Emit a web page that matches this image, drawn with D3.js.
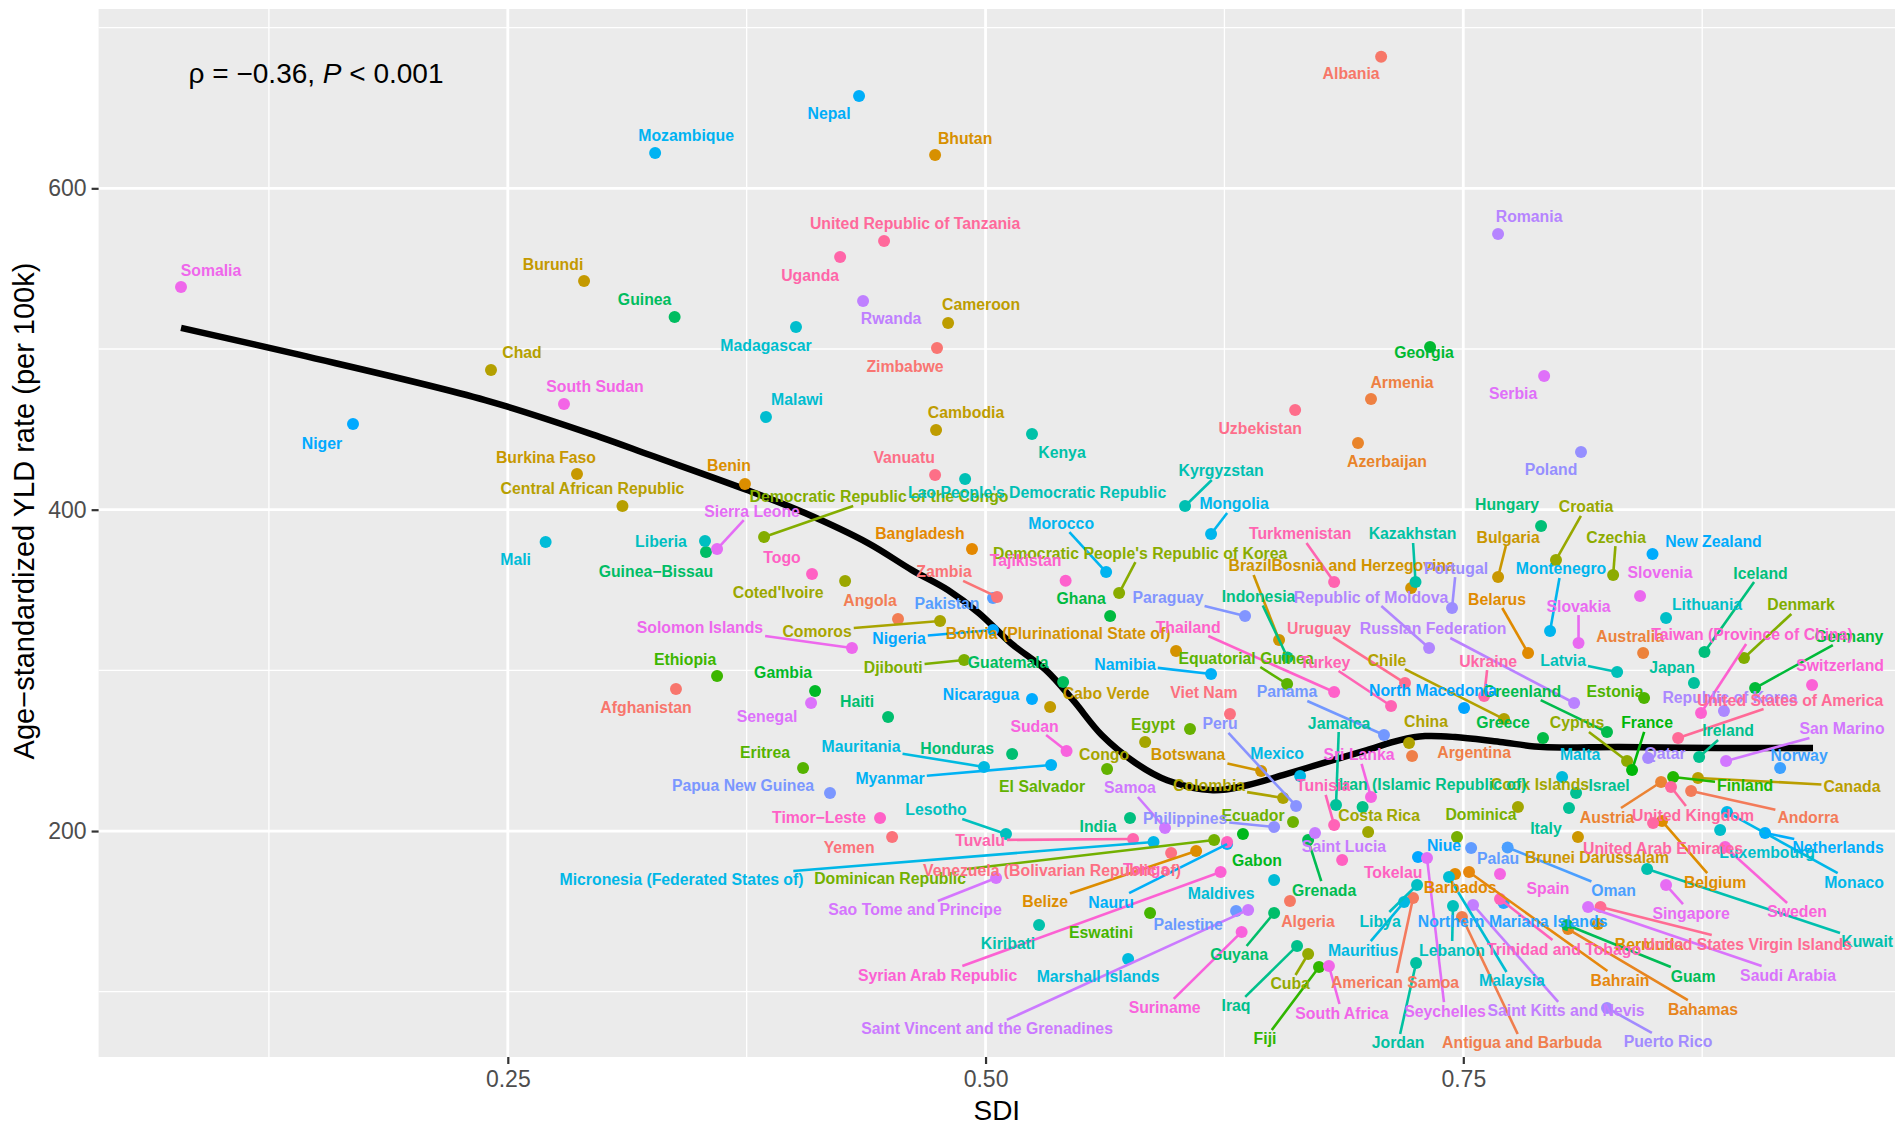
<!DOCTYPE html>
<html>
<head>
<meta charset="utf-8">
<script src="https://cdn.jsdelivr.net/npm/d3@7"></script>
<style>
  body { margin: 0; background: #fff; }
  text { font-family: "Liberation Sans", Arial, sans-serif; }
</style>
</head>
<body>
<svg id="chart" width="1902" height="1129"></svg>
<script>
// countries in alphabetical order (colour follows this order, like ggplot's hue scale)
const countries = [
  "Afghanistan", "Albania", "Algeria", "American Samoa", "Andorra", "Angola", "Antigua and Barbuda", "Argentina", "Armenia", "Australia", "Austria", "Azerbaijan",
  "Bahamas", "Bahrain", "Bangladesh", "Barbados", "Belarus", "Belgium", "Belize", "Benin", "Bermuda", "Bhutan", "Bolivia (Plurinational State of)", "Bosnia and Herzegovina", "Botswana", "Brazil", "Brunei Darussalam", "Bulgaria", "Burkina Faso", "Burundi",
  "Cabo Verde", "Cambodia", "Cameroon", "Canada", "Central African Republic", "Chad", "Chile", "China", "Colombia", "Comoros", "Congo", "Cook Islands", "Costa Rica", "Coted'Ivoire", "Croatia", "Cuba", "Cyprus", "Czechia",
  "Democratic People's Republic of Korea", "Democratic Republic of the Congo", "Denmark", "Djibouti", "Dominica", "Dominican Republic",
  "Ecuador", "Egypt", "El Salvador", "Equatorial Guinea", "Eritrea", "Estonia", "Eswatini", "Ethiopia",
  "Fiji", "Finland", "France",
  "Gabon", "Gambia", "Georgia", "Germany", "Ghana", "Greece", "Greenland", "Grenada", "Guam", "Guatemala", "Guinea", "Guinea−Bissau", "Guyana",
  "Haiti", "Honduras", "Hungary",
  "Iceland", "India", "Indonesia", "Iran (Islamic Republic of)", "Iraq", "Ireland", "Israel", "Italy",
  "Jamaica", "Japan", "Jordan",
  "Kazakhstan", "Kenya", "Kiribati", "Kuwait", "Kyrgyzstan",
  "Lao People's Democratic Republic", "Latvia", "Lebanon", "Lesotho", "Liberia", "Libya", "Lithuania", "Luxembourg",
  "Madagascar", "Malawi", "Malaysia", "Maldives", "Mali", "Malta", "Marshall Islands", "Mauritania", "Mauritius", "Mexico", "Micronesia (Federated States of)", "Monaco", "Mongolia", "Montenegro", "Morocco", "Mozambique", "Myanmar",
  "Namibia", "Nauru", "Nepal", "Netherlands", "New Zealand", "Nicaragua", "Niger", "Nigeria", "Niue", "North Macedonia", "Northern Mariana Islands", "Norway",
  "Oman",
  "Pakistan", "Palau", "Palestine", "Panama", "Papua New Guinea", "Paraguay", "Peru", "Philippines", "Poland", "Portugal", "Puerto Rico",
  "Qatar",
  "Republic of Korea", "Republic of Moldova", "Romania", "Russian Federation", "Rwanda",
  "Saint Kitts and Nevis", "Saint Lucia", "Saint Vincent and the Grenadines", "Samoa", "San Marino", "Sao Tome and Principe", "Saudi Arabia", "Senegal", "Serbia", "Seychelles", "Sierra Leone", "Singapore", "Slovakia", "Slovenia", "Solomon Islands", "Somalia", "South Africa", "South Sudan", "Spain", "Sri Lanka", "Sudan", "Suriname", "Sweden", "Switzerland", "Syrian Arab Republic",
  "Taiwan (Province of China)", "Tajikistan", "Thailand", "Timor−Leste", "Togo", "Tokelau", "Tonga", "Trinidad and Tobago", "Tunisia", "Turkey", "Turkmenistan", "Tuvalu",
  "Uganda", "Ukraine", "United Arab Emirates", "United Kingdom", "United Republic of Tanzania", "United States of America", "United States Virgin Islands", "Uruguay", "Uzbekistan",
  "Vanuatu", "Venezuela (Bolivarian Republic of)", "Viet Nam",
  "Yemen", "Zambia", "Zimbabwe"
];

const sdi = [
  0.3380, 0.7070, 0.6593, 0.7237, 0.8692, 0.4542, 0.7493, 0.7232, 0.7017, 0.8441, 0.8535, 0.6949,
  0.8048, 0.7530, 0.4929, 0.7457, 0.7839, 0.8540, 0.6102, 0.3741, 0.8205, 0.4736, 0.5997, 0.7227, 0.6442, 0.6536, 0.8100, 0.7682, 0.2862, 0.2899,
  0.5338, 0.4741, 0.4804, 0.8728, 0.3100, 0.2412, 0.7713, 0.7216, 0.6557, 0.4762, 0.5835, 0.7786, 0.7002, 0.4265, 0.7985, 0.6688, 0.8357, 0.8284,
  0.5699, 0.3841, 0.8969, 0.4888, 0.7467, 0.6196,
  0.6609, 0.6070, 0.5636, 0.6578, 0.4045, 0.8446, 0.5861, 0.3595,
  0.6745, 0.8598, 0.8383,
  0.6347, 0.4108, 0.7326, 0.9027, 0.5652, 0.7917, 0.8252, 0.6688, 0.8043, 0.5406, 0.3373, 0.3537, 0.6510,
  0.4490, 0.5139, 0.7907,
  0.8762, 0.5756, 0.6580, 0.6973, 0.6630, 0.8734, 0.8090, 0.8053,
  0.6834, 0.8707, 0.7253,
  0.7250, 0.5243, 0.5280, 0.8462, 0.6044,
  0.4893, 0.8305, 0.7446, 0.5107, 0.3532, 0.7258, 0.8561, 0.8844,
  0.4008, 0.3851, 0.7425, 0.6510, 0.2698, 0.8017, 0.5746, 0.4992, 0.7190, 0.6646, 0.5879, 0.8880, 0.6180, 0.7954, 0.5631, 0.3271, 0.5343,
  0.6180, 0.6264, 0.4338, 0.9079, 0.8490, 0.5243, 0.1690, 0.5039, 0.7263, 0.7504, 0.7711, 0.9158,
  0.7732,
  0.5039, 0.7541, 0.6311, 0.7085, 0.4186, 0.6358, 0.6625, 0.6510, 0.8116, 0.7441, 0.8252,
  0.8467,
  0.8864, 0.7321, 0.7682, 0.8080, 0.4359,
  0.7551, 0.6724, 0.6374, 0.5939, 0.8875, 0.5055, 0.8153, 0.4087, 0.7923, 0.7310, 0.3595, 0.8561, 0.8103, 0.8425, 0.4301, 0.0790, 0.6797, 0.2794, 0.7692, 0.7017, 0.5424, 0.6340, 0.8870, 0.9325, 0.6230,
  0.8744, 0.5419, 0.6824, 0.4448, 0.4092, 0.6866, 0.6264, 0.7692, 0.6824, 0.7122, 0.6824, 0.5772,
  0.4239, 0.7609, 0.8493, 0.8587, 0.4469, 0.8624, 0.8218, 0.7195, 0.6620,
  0.4736, 0.5971, 0.6279,
  0.4511, 0.5060, 0.4746
];

const yld = [
  288.4, 681.9, 156.5, 158.3, 224.9, 332.0, 146.5, 246.7, 468.9, 310.8, 230.5, 441.5,
  139.0, 174.5, 375.5, 173.3, 310.8, 206.2, 187.6, 416.0, 142.1, 620.7, 312.0, 351.3, 237.4, 318.9, 196.3, 358.1, 422.2, 542.3,
  277.2, 449.6, 516.2, 233.0, 402.3, 486.9, 269.7, 254.8, 220.6, 330.7, 255.4, 215.0, 199.4, 355.6, 368.7, 123.5, 243.6, 359.3,
  348.1, 383.0, 307.7, 306.4, 196.3, 194.4,
  205.6, 263.5, 238.6, 291.5, 239.2, 282.8, 149.0, 296.5,
  115.4, 233.6, 238.0,
  198.2, 287.2, 501.2, 289.0, 333.8, 257.9, 261.6, 194.4, 141.5, 292.8, 519.9, 373.7, 149.0,
  271.0, 247.9, 389.8,
  311.4, 208.1, 308.0, 215.0, 128.5, 246.1, 223.7, 214.3,
  216.2, 292.1, 117.9,
  355.0, 447.1, 141.5, 176.4, 402.3,
  419.1, 299.0, 153.3, 198.2, 380.5, 166.4, 332.6, 200.6,
  513.7, 457.7, 171.4, 169.5, 379.9, 233.6, 120.4, 239.9, 155.8, 234.3, 193.2, 211.8, 384.9, 324.5, 361.2, 622.0, 241.1,
  297.7, 191.9, 657.5, 198.8, 372.4, 282.2, 453.3, 325.1, 183.8, 276.6, 155.2, 239.2,
  189.8,
  345.0, 189.4, 150.2, 259.8, 223.7, 333.8, 215.6, 202.5, 435.9, 338.8, 89.9,
  245.5,
  274.7, 313.9, 571.6, 279.7, 529.9,
  154.0, 198.8, 150.9, 201.9, 243.6, 170.8, 152.7, 279.7, 483.2, 183.2, 375.5, 166.4, 317.0, 346.3, 313.9, 538.6, 116.0, 465.8, 173.3, 221.2, 249.8, 137.2, 190.1, 290.9, 174.5,
  273.5, 355.8, 286.5, 208.1, 360.0, 182.0, 193.2, 157.7, 203.8, 277.8, 355.0, 195.0,
  557.2, 284.0, 205.0, 227.4, 567.2, 257.9, 152.7, 292.1, 462.0,
  421.6, 186.3, 272.8,
  196.3, 345.7, 500.6
];

// loess trend
const smoothSdi = [0.0790, 0.1413, 0.2381, 0.2983, 0.3244, 0.3752, 0.4055, 0.4385, 0.4615, 0.4803, 0.4966, 0.5133, 0.5316, 0.5458, 0.5609,
  0.5787, 0.5950, 0.6190, 0.6368, 0.6556, 0.6818, 0.6996, 0.7169, 0.7300, 0.7457, 0.7692, 0.7917, 0.8320, 0.8828, 0.9330];
const smoothYld = [513.1, 496.3, 468.2, 445.2, 434.0, 412.2, 397.9, 379.2, 362.4, 350.0, 335.6, 316.9, 300.1, 281.4, 259.6,
  242.2, 231.6, 225.4, 228.5, 234.8, 244.2, 250.4, 256.6, 259.1, 258.5, 255.4, 252.3, 252.3, 251.7, 251.7];

const xTicks = [0.25, 0.5, 0.75];
const xTickLabels = ["0.25", "0.50", "0.75"];
const xMinor = [0.125, 0.375, 0.625, 0.875];
const yTicks = [200, 400, 600];
const yMinor = [100, 300, 500, 700];

// where the repelled labels sit, in pixels from their point
const labelNudge = {
  "Afghanistan": [-30, 19], "Albania": [-30, 17], "Algeria": [18, 21], "American Samoa": [-18, 84], "Andorra": [117, 26],
  "Angola": [-28, -18], "Antigua and Barbuda": [60, 126], "Argentina": [62, -3], "Armenia": [31, -16], "Australia": [-13, -17],
  "Austria": [-54, 35], "Azerbaijan": [29, 19], "Bahamas": [135, 80], "Bahrain": [151, 108], "Bangladesh": [-52, -16],
  "Barbados": [5, 14], "Belarus": [-31, -54], "Belgium": [53, 61], "Belize": [-151, 51], "Benin": [-16, -18],
  "Bermuda": [51, 20], "Bhutan": [30, -17], "Bolivia (Plurinational State of)": [-118, -18], "Bosnia and Herzegovina": [-48, -22],
  "Botswana": [-73, -16], "Brazil": [-29, -74], "Brunei Darussalam": [19, 21], "Bulgaria": [10, -40], "Burkina Faso": [-31, -17],
  "Burundi": [-31, -17], "Cabo Verde": [56, -13], "Cambodia": [30, -17], "Cameroon": [33, -18], "Canada": [154, 8],
  "Central African Republic": [-30, -17], "Chad": [31, -18], "Chile": [-117, -59], "China": [17, -21], "Colombia": [-74, -12],
  "Comoros": [-123, 10], "Congo": [-41, 12], "Cook Islands": [22, -22], "Costa Rica": [11, -17], "Coted'Ivoire": [-67, 11],
  "Croatia": [30, -53], "Cuba": [-18, 30], "Cyprus": [-50, -38], "Czechia": [3, -38],
  "Democratic People's Republic of Korea": [21, -40], "Democratic Republic of the Congo": [115, -40], "Denmark": [57, -53],
  "Djibouti": [-71, 7], "Dominica": [24, -22], "Dominican Republic": [-324, 38], "Ecuador": [-40, -7], "Egypt": [-37, -5],
  "El Salvador": [-65, 17], "Equatorial Guinea": [-41, -26], "Eritrea": [-38, -16], "Estonia": [-29, -6], "Eswatini": [-49, 20],
  "Ethiopia": [-32, -16], "Fiji": [-54, 72], "Finland": [72, 8], "France": [15, -47], "Gabon": [14, 27], "Gambia": [-32, -18],
  "Georgia": [-6, 5], "Germany": [94, -52], "Ghana": [-29, -18], "Greece": [-40, -16], "Greenland": [-85, -41], "Grenada": [16, 50],
  "Guam": [126, 51], "Guatemala": [-55, -19], "Guinea": [-30, -18], "Guinea−Bissau": [-50, 20], "Guyana": [-35, 42],
  "Haiti": [-31, -15], "Honduras": [-55, -6], "Hungary": [-34, -22], "Iceland": [56, -79], "India": [-32, 8], "Indonesia": [-29, -61],
  "Iran (Islamic Republic of)": [70, -22], "Iraq": [-61, 60], "Ireland": [29, -26], "Israel": [33, -7], "Italy": [-23, 20],
  "Jamaica": [3, -82], "Japan": [-22, -16], "Jordan": [-18, 80], "Kazakhstan": [-3, -48], "Kenya": [30, 19], "Kiribati": [-31, 18],
  "Kuwait": [220, 73], "Kyrgyzstan": [36, -35], "Lao People's Democratic Republic": [72, 14], "Latvia": [-54, -11],
  "Lebanon": [-1, 44], "Lesotho": [-70, -24], "Liberia": [-44, 0], "Libya": [-37, 36], "Lithuania": [41, -13], "Luxembourg": [47, 22],
  "Madagascar": [-30, 19], "Malawi": [31, -17], "Malaysia": [63, 104], "Maldives": [-53, 13], "Mali": [-30, 18], "Malta": [18, -23],
  "Marshall Islands": [-30, 18], "Mauritania": [-123, -20], "Mauritius": [-41, 48], "Mexico": [-23, -22],
  "Micronesia (Federated States of)": [-472, 38], "Monaco": [127, 70], "Mongolia": [23, -30], "Montenegro": [11, -62],
  "Morocco": [-45, -49], "Mozambique": [31, -17], "Myanmar": [-161, 14], "Namibia": [-86, -10], "Nauru": [-116, 58],
  "Nepal": [-30, 18], "Netherlands": [73, 15], "New Zealand": [61, -13], "Nicaragua": [-51, -4], "Niger": [-31, 19],
  "Nigeria": [-94, 8], "Niue": [26, -12], "North Macedonia": [-31, -17], "Northern Mariana Islands": [9, 18], "Norway": [19, -13],
  "Oman": [106, 43], "Pakistan": [-46, 5], "Palau": [27, 10], "Palestine": [-48, 13], "Panama": [-97, -43],
  "Papua New Guinea": [-87, -7], "Paraguay": [-77, -19], "Peru": [-76, -82], "Philippines": [-89, -9], "Poland": [-30, 18],
  "Portugal": [4, -40], "Puerto Rico": [61, 34], "Qatar": [17, -4], "Republic of Korea": [6, -14], "Republic of Moldova": [-58, -51],
  "Romania": [31, -17], "Russian Federation": [-141, -74], "Rwanda": [28, 18], "Saint Kitts and Nevis": [93, 106],
  "Saint Lucia": [29, 14], "Saint Vincent and the Grenadines": [-261, 119], "Samoa": [-35, -40], "San Marino": [116, -32],
  "Sao Tome and Principe": [-81, 32], "Saudi Arabia": [200, 68], "Senegal": [-44, 14], "Serbia": [-31, 18], "Seychelles": [18, 153],
  "Sierra Leone": [35, -38], "Singapore": [25, 28], "Slovakia": [0, -37], "Slovenia": [20, -23], "Solomon Islands": [-152, -21],
  "Somalia": [30, -16], "South Africa": [13, 47], "South Sudan": [31, -17], "Spain": [48, 15], "Sri Lanka": [-12, -42],
  "Sudan": [-32, -25], "Suriname": [-77, 76], "Sweden": [72, 65], "Switzerland": [28, -19], "Syrian Arab Republic": [-283, 103],
  "Taiwan (Province of China)": [51, -78], "Tajikistan": [-40, -20], "Thailand": [-146, -65], "Timor−Leste": [-61, -1],
  "Togo": [-30, -16], "Tokelau": [51, 13], "Tonga": [-81, 28], "Trinidad and Tobago": [64, 50], "Tunisia": [-11, -39],
  "Turkey": [-66, -44], "Turkmenistan": [-34, -48], "Tuvalu": [-153, 1], "Uganda": [-30, 18], "Ukraine": [4, -35],
  "United Arab Emirates": [10, 25], "United Kingdom": [22, 28], "United Republic of Tanzania": [31, -18],
  "United States of America": [112, -38], "United States Virgin Islands": [147, 37], "Uruguay": [-86, -55], "Uzbekistan": [-35, 18],
  "Vanuatu": [-31, -17], "Venezuela (Bolivarian Republic of)": [-119, 17], "Viet Nam": [-26, -22], "Yemen": [-43, 11],
  "Zambia": [-53, -25], "Zimbabwe": [-32, 18]
};

// labels that got a leader segment
const segmentLabels = new Set([
  "Democratic Republic of the Congo", "Sierra Leone", "Comoros", "Solomon Islands", "Nigeria", "Djibouti", "Zambia", "Morocco",
  "Democratic People's Republic of Korea", "Mauritania", "Myanmar", "Sudan", "Namibia", "Paraguay", "Indonesia", "Brazil",
  "Thailand", "Kyrgyzstan", "Mongolia", "Lesotho", "Tuvalu", "Micronesia (Federated States of)", "Dominican Republic",
  "Sao Tome and Principe", "Belize", "Nauru", "Syrian Arab Republic", "Samoa", "Colombia", "Philippines", "Peru", "Botswana",
  "Equatorial Guinea", "Uruguay", "Turkey", "Panama", "Chile", "Republic of Moldova", "Russian Federation", "Portugal",
  "Bulgaria", "Kazakhstan", "Turkmenistan", "Croatia", "Czechia", "Montenegro", "Slovakia", "Belarus", "Iceland", "Denmark",
  "Taiwan (Province of China)", "Germany", "Latvia", "Ukraine", "Greenland", "Cyprus", "France", "Ireland", "San Marino",
  "United States of America", "Finland", "Canada", "Austria", "United Kingdom", "Andorra", "Belgium", "Netherlands", "Monaco",
  "Sweden", "Singapore", "Kuwait", "Oman", "United States Virgin Islands", "Saudi Arabia", "Guam", "Bahamas", "Bahrain",
  "Puerto Rico", "Trinidad and Tobago", "Antigua and Barbuda", "Saint Kitts and Nevis", "Malaysia", "Seychelles", "Lebanon",
  "American Samoa", "Jordan", "Libya", "Mauritius", "South Africa", "Fiji", "Cuba", "Iraq", "Guyana", "Suriname",
  "Saint Vincent and the Grenadines", "Grenada", "Jamaica", "Tunisia", "Sri Lanka"
]);

// R's hcl() (polar LUV -> sRGB), used by ggplot's default hue scale
function hcl(h, c, l) {
  const hr = h * Math.PI / 180;
  const U = c * Math.cos(hr), V = c * Math.sin(hr);
  const Y = 100 * (l > 7.999592 ? Math.pow((l + 16) / 116, 3) : l / 903.3);
  const u = U / (13 * l) + 0.1978398, v = V / (13 * l) + 0.4683363;
  const X = 9 * Y * u / (4 * v);
  const Z = -X / 3 - 5 * Y + 3 * Y / v;
  const g = t => { t = t > 0.00304 ? 1.055 * Math.pow(t, 1 / 2.4) - 0.055 : 12.92 * t; return Math.round(255 * Math.max(0, Math.min(1, t))); };
  return `rgb(${g((3.240479 * X - 1.537150 * Y - 0.498535 * Z) / 100)},${g((-0.969256 * X + 1.875992 * Y + 0.041556 * Z) / 100)},${g((0.055648 * X - 0.204043 * Y + 1.057311 * Z) / 100)})`;
}
const n = countries.length;
const colour = countries.map((d, i) => hcl(15 + 360 * i / n, 100, 65));

const data = countries.map((name, i) => ({ name, sdi: sdi[i], yld: yld[i], col: colour[i] }));
const smooth = smoothSdi.map((s, i) => ({ sdi: s, yld: smoothYld[i] }));

const svg = d3.select("#chart");
const panel = { left: 98.6, right: 1895, top: 9, bottom: 1057 };

const x = d3.scaleLinear().domain([0.03587, 0.9759]).range([panel.left, panel.right]);
const y = d3.scaleLinear().domain([59.37, 711.6]).range([panel.bottom, panel.top]);

svg.append("rect").attr("width", 1902).attr("height", 1129).attr("fill", "#fff");
svg.append("rect")
  .attr("x", panel.left).attr("y", panel.top)
  .attr("width", panel.right - panel.left).attr("height", panel.bottom - panel.top)
  .attr("fill", "#EBEBEB");

const grid = svg.append("g");
grid.selectAll(".xmin").data(xMinor).enter().append("line")
  .attr("x1", d => x(d)).attr("x2", d => x(d)).attr("y1", panel.top).attr("y2", panel.bottom)
  .attr("stroke", "#fff").attr("stroke-width", 1.3);
grid.selectAll(".ymin").data(yMinor).enter().append("line")
  .attr("y1", d => y(d)).attr("y2", d => y(d)).attr("x1", panel.left).attr("x2", panel.right)
  .attr("stroke", "#fff").attr("stroke-width", 1.3);
grid.selectAll(".xmaj").data(xTicks).enter().append("line")
  .attr("x1", d => x(d)).attr("x2", d => x(d)).attr("y1", panel.top).attr("y2", panel.bottom)
  .attr("stroke", "#fff").attr("stroke-width", 2.8);
grid.selectAll(".ymaj").data(yTicks).enter().append("line")
  .attr("y1", d => y(d)).attr("y2", d => y(d)).attr("x1", panel.left).attr("x2", panel.right)
  .attr("stroke", "#fff").attr("stroke-width", 2.8);

// axes
const xAxis = svg.append("g")
  .attr("transform", `translate(0,${panel.bottom})`)
  .call(d3.axisBottom(x).tickValues(xTicks).tickFormat((d, i) => xTickLabels[i]).tickSize(7).tickPadding(7));
const yAxis = svg.append("g")
  .attr("transform", `translate(${panel.left},0)`)
  .call(d3.axisLeft(y).tickValues(yTicks).tickSize(7).tickPadding(5));
[xAxis, yAxis].forEach(a => {
  a.select(".domain").remove();
  a.selectAll(".tick line").attr("stroke", "#333").attr("stroke-width", 2.2);
  a.selectAll(".tick text").attr("fill", "#4D4D4D").style("font-size", "23px")
    .style("font-family", "'Liberation Sans', Arial, sans-serif");
});

svg.append("text")
  .attr("x", (panel.left + panel.right) / 2).attr("y", 1120)
  .attr("text-anchor", "middle").style("font-size", "28px").attr("fill", "#000")
  .text("SDI");
svg.append("text")
  .attr("transform", "translate(34,511) rotate(-90)")
  .attr("text-anchor", "middle").style("font-size", "29px").attr("fill", "#000")
  .text("Age−standardized YLD rate (per 100k)");

// loess curve
svg.append("path")
  .datum(smooth)
  .attr("fill", "none").attr("stroke", "#000").attr("stroke-width", 6.5)
  .attr("d", d3.line().x(d => x(d.sdi)).y(d => y(d.yld)).curve(d3.curveCatmullRom.alpha(0.5)));

// points
svg.append("g").selectAll("circle").data(data).enter().append("circle")
  .attr("cx", d => x(d.sdi)).attr("cy", d => y(d.yld)).attr("r", 6)
  .attr("fill", d => d.col);

// labels (repel layout)
const segG = svg.append("g");
const labG = svg.append("g");
data.forEach(d => {
  const px = x(d.sdi), py = y(d.yld);
  const off = labelNudge[d.name] || [0, -18];
  const cx = px + off[0], cy = py + off[1];
  const t = labG.append("text")
    .attr("x", cx).attr("y", cy)
    .attr("text-anchor", "middle").attr("dominant-baseline", "central")
    .style("font-size", "15.8px").style("font-weight", "bold")
    .attr("fill", d.col).text(d.name);
  if (segmentLabels.has(d.name)) {
    const hw = t.node().getComputedTextLength() / 2 + 2, hh = 9;
    const dx = px - cx, dy = py - cy;
    const s = Math.min(dx !== 0 ? hw / Math.abs(dx) : Infinity, dy !== 0 ? hh / Math.abs(dy) : Infinity);
    if (s < 1) {
      segG.append("line")
        .attr("x1", px).attr("y1", py)
        .attr("x2", cx + dx * s).attr("y2", cy + dy * s)
        .attr("stroke", d.col).attr("stroke-width", 2.6);
    }
  }
});

// correlation note
const note = svg.append("text").attr("x", 188.6).attr("y", 83)
  .style("font-size", "28px").attr("fill", "#000");
note.append("tspan").text("ρ = −0.36, ");
note.append("tspan").style("font-style", "italic").text("P");
note.append("tspan").text(" < 0.001");
</script>
</body>
</html>
